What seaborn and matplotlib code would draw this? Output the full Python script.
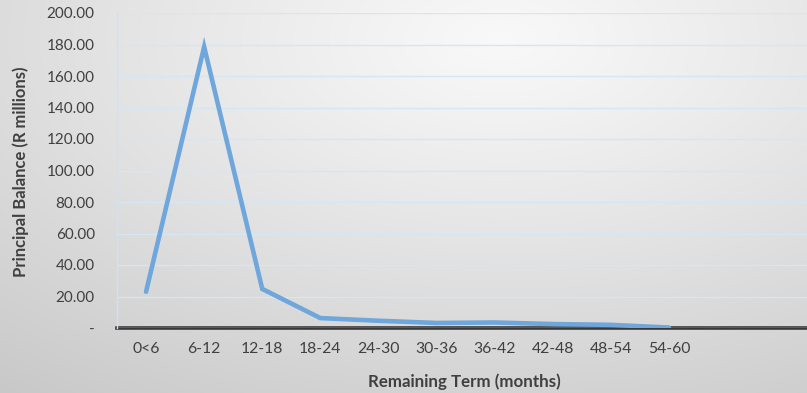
import numpy as np
import pandas as pd
import matplotlib
matplotlib.use("Agg")
import matplotlib.pyplot as plt
import seaborn as sns
from matplotlib.ticker import FuncFormatter

categories = ["0<6", "6-12", "12-18", "18-24", "24-30", "30-36", "36-42", "42-48", "48-54", "54-60"]
balances = [23.0, 178.5, 24.8, 6.3, 4.6, 3.2, 3.5, 2.5, 2.0, 0.3]
y_ticks = [0, 20, 40, 60, 80, 100, 120, 140, 160, 180, 200]

sns.set_theme(style="white")
plt.rcParams["font.family"] = ["Lato", "DejaVu Sans"]

W, H = 807, 393
fig = plt.figure(figsize=(W / 100, H / 100), dpi=100)

# background radial gradient
bg = fig.add_axes([0, 0, 1, 1], zorder=0)
yy, xx = np.mgrid[0:H, 0:W]
cx, cy = 500, 40
d = np.sqrt(((xx - cx) / W) ** 2 + ((yy - cy) / H * 0.9) ** 2)
d = d / d.max()
val = 0.975 - 0.19 * np.clip(d, 0, 1) ** 1.1
img = np.dstack([val, val, val])
bg.imshow(img, aspect="auto", extent=[0, 1, 0, 1], origin="upper")
bg.axis("off")

ax = fig.add_axes([117 / W, 1 - 328 / H, 1 - 117 / W, (328 - 13) / H], zorder=1)
ax.patch.set_alpha(0)

df = pd.DataFrame({"term": categories, "pos": np.arange(len(categories)), "balance": balances})
sns.lineplot(data=df, x="pos", y="balance", ax=ax, color="#6fa6db", linewidth=3.3,
             solid_capstyle="round", solid_joinstyle="miter", sort=False)

ax.set_xlim(-0.5, -0.5 + (W - 117) / 58.1)
ax.set_ylim(0, 200)
ax.set_yticks(y_ticks)
ax.yaxis.set_major_formatter(FuncFormatter(lambda v, p: "-" if v == 0 else f"{v:.2f}"))
ax.set_xticks(df["pos"])
ax.set_xticklabels(categories)
ax.grid(axis="y", color="#d6e6f5", linewidth=1.0)
ax.grid(axis="x", visible=False)
ax.set_axisbelow(True)

for s in ["top", "right"]:
    ax.spines[s].set_visible(False)
ax.spines["left"].set_color("#cfe1f3")
ax.spines["left"].set_linewidth(1.0)
ax.spines["bottom"].set_color("#383838")
ax.spines["bottom"].set_linewidth(2.6)
ax.spines["bottom"].set_zorder(0.5)

ax.tick_params(axis="y", length=0, pad=16, labelsize=11, labelcolor="#404040")
ax.tick_params(axis="x", length=0, pad=10, labelsize=11.3, labelcolor="#404040")

ax.set_xlabel("Remaining Term (months)", fontsize=12.2, fontweight="bold", color="#404040")
ax.set_ylabel("Principal Balance (R millions)", fontsize=12.0, fontweight="bold", color="#404040")
ax.xaxis.set_label_coords((464 - 117) / (W - 117), -(373 - 328) / (328 - 13))
ax.yaxis.set_label_coords(-(117 - 29) / (W - 117), (328 - 172) / (328 - 13))

fig.savefig("out.png", dpi=100)
